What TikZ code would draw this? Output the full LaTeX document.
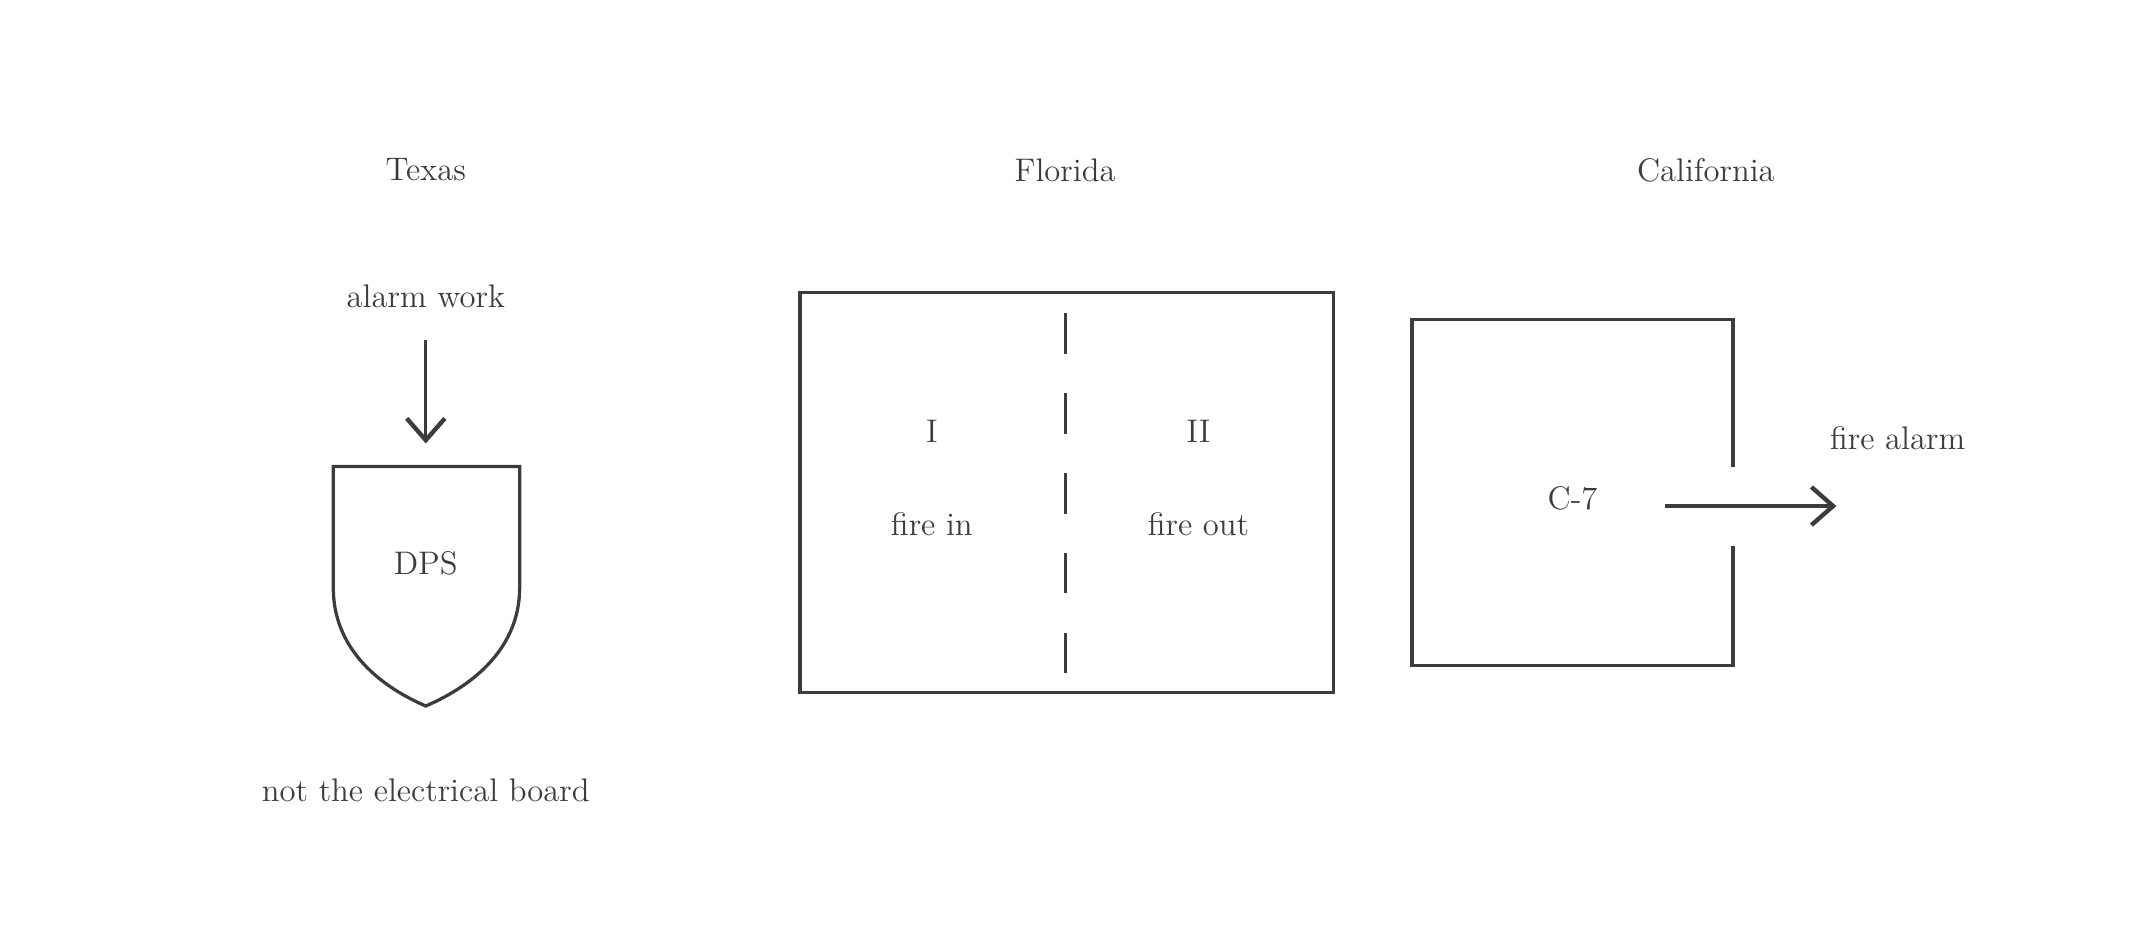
\documentclass[tikz,border=0pt]{standalone}
\usetikzlibrary{arrows.meta}
\tikzset{every picture/.style={line width=1.2pt}}
\tikzset{lbl/.style={inner sep=0.75pt, font=\large, color={rgb, 255:red, 60; green, 60; blue, 60 }}}
\tikzset{ln/.style={color={rgb, 255:red, 60; green, 60; blue, 60 }}}
\begin{document}
\begin{tikzpicture}[x=0.5pt,y=0.5pt,yscale=-1,xscale=1]
\useasboundingbox (0,0) rectangle (1568,686);

% Texas
\node[lbl] (texas) at (313,125) {Texas};
\node[lbl] (work) at (313,218) {alarm work};
\coordinate (top) at (313,250);
\coordinate (shieldtop) at (313,326);
\draw[ln, -{Straight Barb[length=8pt,width=14pt,line width=1.6pt]}] (top) -- (shieldtop);
%Shield
\draw[ln] (245,343) -- (382,343) -- (382,432) .. controls (382,475) and (350,503) .. (313,519) .. controls (276,503) and (245,475) .. (245,432) -- cycle;
\node[lbl] (dps) at (313,414) {DPS};
\node[lbl] (board) at (313,581) {not the electrical board};

% Florida
\node[lbl] (florida) at (783,125) {Florida};
\draw[ln] (588,215) rectangle (980,509);
\draw[ln, dash pattern=on 15pt off 14.375pt] (783,230) -- (783,495);
\node[lbl] (one) at (685,317) {I};
\node[lbl] (two) at (881,317) {II};
\node[lbl] (firein) at (685,385) {fire in};
\node[lbl] (fireout) at (881,385) {fire out};

% California
\node[lbl] (california) at (1254,125) {California};
\draw[ln] (1274,343) -- (1274,235) -- (1038,235) -- (1038,489) -- (1274,489) -- (1274,401);
\node[lbl] (c7) at (1156,366) {C-7};
\coordinate (out) at (1224,372);
\coordinate (outend) at (1350,372);
\draw[ln, -{Straight Barb[length=8pt,width=14pt,line width=1.6pt]}] (out) -- (outend);
\node[lbl] (alarm) at (1395,322) {fire alarm};

\end{tikzpicture}
\end{document}
